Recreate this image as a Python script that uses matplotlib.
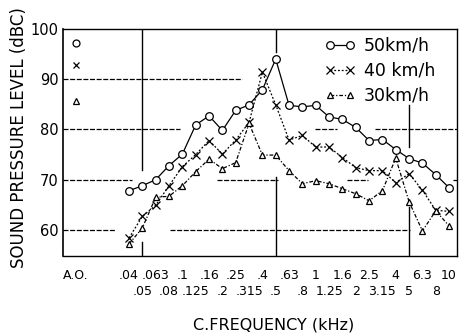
import numpy as np
import matplotlib
matplotlib.use('Agg')
import matplotlib.pyplot as plt

# 1/3-octave band centre frequencies (kHz)
freqs = ['.04', '.05', '.063', '.08', '.1', '.125', '.16', '.2', '.25', '.315',
         '.4', '.5', '.63', '.8', '1', '1.25', '1.6', '2', '2.5', '3.15',
         '4', '5', '6.3', '8', '10']

# band levels (dBC) for each vehicle speed
spl_50 = [67.8, 68.8, 70.0, 72.8, 75.1, 80.9, 82.7, 79.8, 83.8, 84.9, 87.9, 94.0,
          84.8, 84.5, 84.8, 82.5, 82.0, 80.4, 77.8, 78.0, 76.0, 74.2, 73.3, 71.0, 68.4]
spl_40 = [58.4, 62.7, 64.9, 68.8, 72.6, 75.0, 77.8, 75.1, 77.9, 81.4, 91.4, 84.9,
          77.9, 78.8, 76.5, 76.5, 74.4, 72.4, 71.8, 71.8, 69.4, 71.2, 67.9, 63.9, 63.7]
spl_30 = [57.2, 60.4, 66.5, 66.7, 68.8, 71.6, 74.1, 72.2, 73.4, 81.2, 74.9, 74.9,
          71.8, 69.2, 69.8, 69.2, 68.2, 67.2, 65.8, 67.8, 74.3, 65.6, 59.8, 63.8, 60.8]

# overall levels
ao_50, ao_40, ao_30 = 97.3, 92.9, 85.6

pos = np.arange(len(freqs))
ao_pos = -4
ymin, ymax = 54.8, 100

fig = plt.figure(figsize=(4.65, 3.36), dpi=100)
ax = fig.add_axes([0.1355, 0.238, 0.8475, 0.6757])
ax.set_xlim(-4.95, 24.6)
ax.set_ylim(ymin, ymax)

# broken reference lines
dash = (0, (4, 1.3))
hsegs = [(90, -4.95, 8.48),
         (80, -4.95, 3.83), (80, 13.95, 15.6), (80, 18.45, 24.6),
         (70, -4.95, 0.23), (70, 6.6, 11.18), (70, 16.35, 17.93), (70, 24.3, 24.6),
         (60, -4.95, -1.05), (60, 3.08, 21.08)]
for y, x0, x1 in hsegs:
    ax.plot([x0, x1], [y, y], color='k', lw=0.9, ls=dash, zorder=1)
vsegs = [(1, 72.0, 100), (1, ymin, 57.6),
         (11, 95.5, 100), (11, ymin, 70.6),
         (21, 76.6, 84.9), (21, ymin, 64.6)]
for x, y0, y1 in vsegs:
    ax.plot([x, x], [y0, y1], color='k', lw=1.0, zorder=1)

ax.plot(pos, spl_50, color='k', lw=0.9, marker='o', ms=5.5, mfc='white',
        mec='k', mew=0.9, label='50km/h', zorder=3)
ax.plot(pos, spl_40, color='k', lw=0.9, ls=(0, (1.5, 1.5)), marker='x', ms=5.5,
        mew=0.9, label='40 km/h', zorder=3)
ax.plot(pos, spl_30, color='k', lw=0.9, ls=(0, (3, 1.5, 1, 1.5)), marker='^',
        ms=4.5, mfc='white', mec='k', mew=0.9, label='30km/h', zorder=3)

ax.plot(ao_pos, ao_50, 'o', ms=5, mfc='white', mec='k', mew=0.9)
ax.plot(ao_pos, ao_40, 'x', ms=4.5, color='k', mew=0.9)
ax.plot(ao_pos, ao_30, '^', ms=4, mfc='white', mec='k', mew=0.9)

ax.legend(loc='upper left', bbox_to_anchor=(0.665, 0.965), frameon=False,
          numpoints=2, handlelength=1.75, handletextpad=0.5, labelspacing=0.4,
          fontsize=12.5, borderaxespad=0, borderpad=0)

# two staggered rows of band labels
ax.set_xticks([ao_pos] + list(pos[::2]), ['A.O.'] + freqs[::2], fontsize=9)
ax.set_xticks(pos[1::2], freqs[1::2], minor=True, fontsize=9)
ax.tick_params(axis='x', which='major', length=0, pad=9)
ax.tick_params(axis='x', which='minor', length=0, pad=21)
ax.set_yticks([60, 70, 80, 90, 100])
ax.tick_params(axis='y', length=0, pad=3, labelsize=10.5)

ax.set_xlabel('C.FREQUENCY (kHz)', fontsize=11.5)
ax.xaxis.set_label_coords(0.535, -0.27)
ax.set_ylabel('SOUND PRESSURE LEVEL (dBC)', fontsize=12)
ax.yaxis.set_label_coords(-0.088, 0.52)

ax.spines['left'].set_linewidth(1.2)
for side in ('top', 'right', 'bottom'):
    ax.spines[side].set_linewidth(1.0)
    ax.spines[side].set_linestyle((0, (4, 1)))

fig.savefig('out.png', dpi=100)
